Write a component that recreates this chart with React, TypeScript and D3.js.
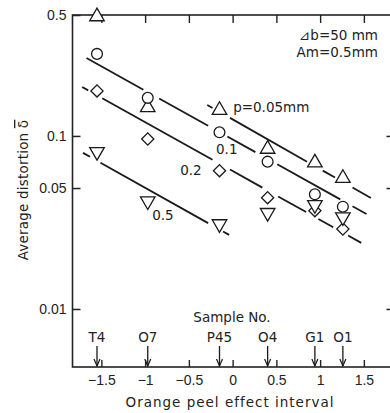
import React, { useEffect, useRef } from 'react';
import * as d3 from 'd3';

// samples and where they sit on the orange peel axis
const samples = ['T4', 'O7', 'P45', 'O4', 'G1', 'O1'];
const sampleX = [-1.55, -0.97, -0.15, 0.4, 0.94, 1.26];

// average distortion for each pitch p
const p005 = [0.49, 0.146, 0.141, 0.084, 0.07, 0.057];
const p01 = [0.298, 0.166, 0.105, 0.071, 0.046, 0.039];
const p02 = [0.182, 0.096, 0.063, 0.044, 0.037, 0.029];
const p05 = [0.081, 0.042, 0.031, 0.036, 0.04, 0.034];

// fitted lines: end points [x, value] and the visible pieces (x ranges)
const fit005 = { from: [-0.29, 0.151], to: [1.58, 0.0438], pieces: [[-0.29, -0.23], [-0.03, 0.85], [1.03, 1.17], [1.37, 1.58]] };
const fit01 = { from: [-1.67, 0.282], to: [1.53, 0.0354], pieces: [[-1.67, -1.02], [-0.84, -0.28], [-0.06, 0.26], [0.51, 1.23], [1.37, 1.53]] };
const fit02 = { from: [-1.72, 0.192], to: [1.47, 0.0241], pieces: [[-1.72, -1.65], [-1.49, -0.23], [-0.03, 0.34], [0.52, 0.84], [0.98, 1.15], [1.32, 1.47]] };
const fit05 = { from: [-1.71, 0.0798], to: [-0.04, 0.0268], pieces: [[-1.71, -1.63], [-1.51, -0.28], [-0.11, -0.04]] };

const xTicks = [-1.5, -1, -0.5, 0, 0.5, 1, 1.5];
const yTicks = [0.5, 0.1, 0.05, 0.01];

const TICK_FONT = '"Liberation Sans", Arial, sans-serif';
const FONT = '"DejaVu Sans", Verdana, sans-serif';

const App = () => {
  const svgRef = useRef<SVGSVGElement>(null);

  useEffect(() => {
    const svg = d3.select(svgRef.current);
    svg.selectAll('*').remove();

    const left = 72.5, right = 394.5, top = 15, bottom = 367;

    const x = d3.scaleLinear().domain([-1.83, 1.85]).range([left, right]);
    const y = d3.scaleLog().domain([0.00462, 0.5]).range([bottom, top]);

    const g = svg.append('g').style('font-family', FONT);

    // frame
    g.append('rect')
      .attr('x', left).attr('y', top)
      .attr('width', right - left).attr('height', bottom - top)
      .attr('fill', 'none').attr('stroke', '#222').attr('stroke-width', 1.6);

    // left axis
    const yAxis = g.append('g')
      .attr('transform', `translate(${left},0)`)
      .call(d3.axisLeft(y).tickValues(yTicks).tickSize(-8).tickPadding(6).tickFormat(d3.format('')));
    yAxis.select('.domain').remove();
    yAxis.selectAll('line').attr('stroke', '#222').attr('stroke-width', 1.5);
    yAxis.selectAll('text').style('font-size', '14px').style('font-family', TICK_FONT).attr('fill', '#222');

    // right ticks
    const yRight = g.append('g')
      .attr('transform', `translate(${right},0)`)
      .call(d3.axisRight(y).tickValues(yTicks.slice(1)).tickSize(-8).tickFormat(() => ''));
    yRight.select('.domain').remove();
    yRight.selectAll('line').attr('stroke', '#222').attr('stroke-width', 1.5);

    // bottom axis
    const xAxis = g.append('g')
      .attr('transform', `translate(0,${bottom})`)
      .call(d3.axisBottom(x).tickValues(xTicks).tickSize(-7).tickPadding(8).tickFormat(d3.format('')));
    xAxis.select('.domain').remove();
    xAxis.selectAll('line').attr('stroke', '#222').attr('stroke-width', 1.4);
    xAxis.selectAll('text').style('font-size', '14px').style('font-family', TICK_FONT).attr('fill', '#222');

    // top ticks
    const xTop = g.append('g')
      .attr('transform', `translate(0,${top})`)
      .call(d3.axisTop(x).tickValues(xTicks).tickSize(-8).tickFormat(() => ''));
    xTop.select('.domain').remove();
    xTop.selectAll('line').attr('stroke', '#222').attr('stroke-width', 1.4);

    // fitted lines, broken around the marks and labels
    const fits = [fit005, fit01, fit02, fit05];
    fits.forEach(f => {
      const [x0, v0] = f.from;
      const [x1, v1] = f.to;
      const val = (xv: number) =>
        Math.pow(10, Math.log10(v0) + (xv - x0) / (x1 - x0) * (Math.log10(v1) - Math.log10(v0)));
      f.pieces.forEach(([a, b]) => {
        g.append('line')
          .attr('x1', x(a)).attr('y1', y(val(a)))
          .attr('x2', x(b)).attr('y2', y(val(b)))
          .attr('stroke', '#1a1a1a').attr('stroke-width', 1.8);
      });
    });

    // markers
    const series = [
      { values: p005, shape: d3.symbol(d3.symbolTriangle, 92)(), rotate: 0 },
      { values: p01, shape: d3.symbol(d3.symbolCircle, 92)(), rotate: 0 },
      { values: p02, shape: d3.symbol(d3.symbolSquare, 74)(), rotate: 45 },
      { values: p05, shape: d3.symbol(d3.symbolTriangle, 92)(), rotate: 180 },
    ];
    series.forEach(s => {
      g.selectAll(null)
        .data(s.values)
        .enter()
        .append('path')
        .attr('d', s.shape)
        .attr('transform', (d, i) => `translate(${x(sampleX[i])},${y(d)}) rotate(${s.rotate})`)
        .attr('fill', '#fff')
        .attr('stroke', '#1a1a1a')
        .attr('stroke-width', 1.3);
    });

    // line labels
    const label = (tx: number, ty: number, txt: string, anchor = 'start') =>
      g.append('text')
        .attr('x', tx).attr('y', ty)
        .attr('text-anchor', anchor)
        .style('font-size', '13.5px')
        .attr('fill', '#222')
        .text(txt);

    label(x(0.006), y(0.1377), 'p=0.05mm');
    label(x(-0.19), y(0.0787), '0.1');
    label(x(-0.6), y(0.0596), '0.2');
    label(x(-0.92), y(0.0327), '0.5');

    label(378, 40, '⊿b=50 mm', 'end');
    label(378, 57, 'Am=0.5mm', 'end');

    // sample arrows
    label(232, 322, 'Sample No.', 'middle');
    samples.forEach((s, i) => {
      const sx = x(sampleX[i]);
      label(sx, 342, s, 'middle');
      g.append('line')
        .attr('x1', sx).attr('y1', 346).attr('x2', sx).attr('y2', bottom - 1)
        .attr('stroke', '#1a1a1a').attr('stroke-width', 1.3);
      g.append('path')
        .attr('d', `M${sx - 3},${bottom - 8}L${sx},${bottom - 1}L${sx + 3},${bottom - 8}`)
        .attr('fill', 'none').attr('stroke', '#1a1a1a').attr('stroke-width', 1.2);
    });

    // axis titles
    g.append('text')
      .attr('x', 230).attr('y', 407)
      .attr('text-anchor', 'middle')
      .style('font-size', '13.5px')
      .style('letter-spacing', '1px')
      .attr('fill', '#222')
      .text('Orange peel effect interval');

    const yt = g.append('text')
      .attr('transform', 'translate(28,190) rotate(-90)')
      .attr('text-anchor', 'middle')
      .style('font-size', '13.5px')
      .style('letter-spacing', '0.2px')
      .attr('fill', '#222');
    yt.append('tspan').text('Average distortion ');
    yt.append('tspan').style('text-decoration', 'overline').text('δ');
  }, []);

  return (
    <svg
      ref={svgRef}
      width={390}
      height={413}
      style={{ position: 'absolute', left: 0, top: 0, background: '#fff' }}
    />
  );
};

export default App;
